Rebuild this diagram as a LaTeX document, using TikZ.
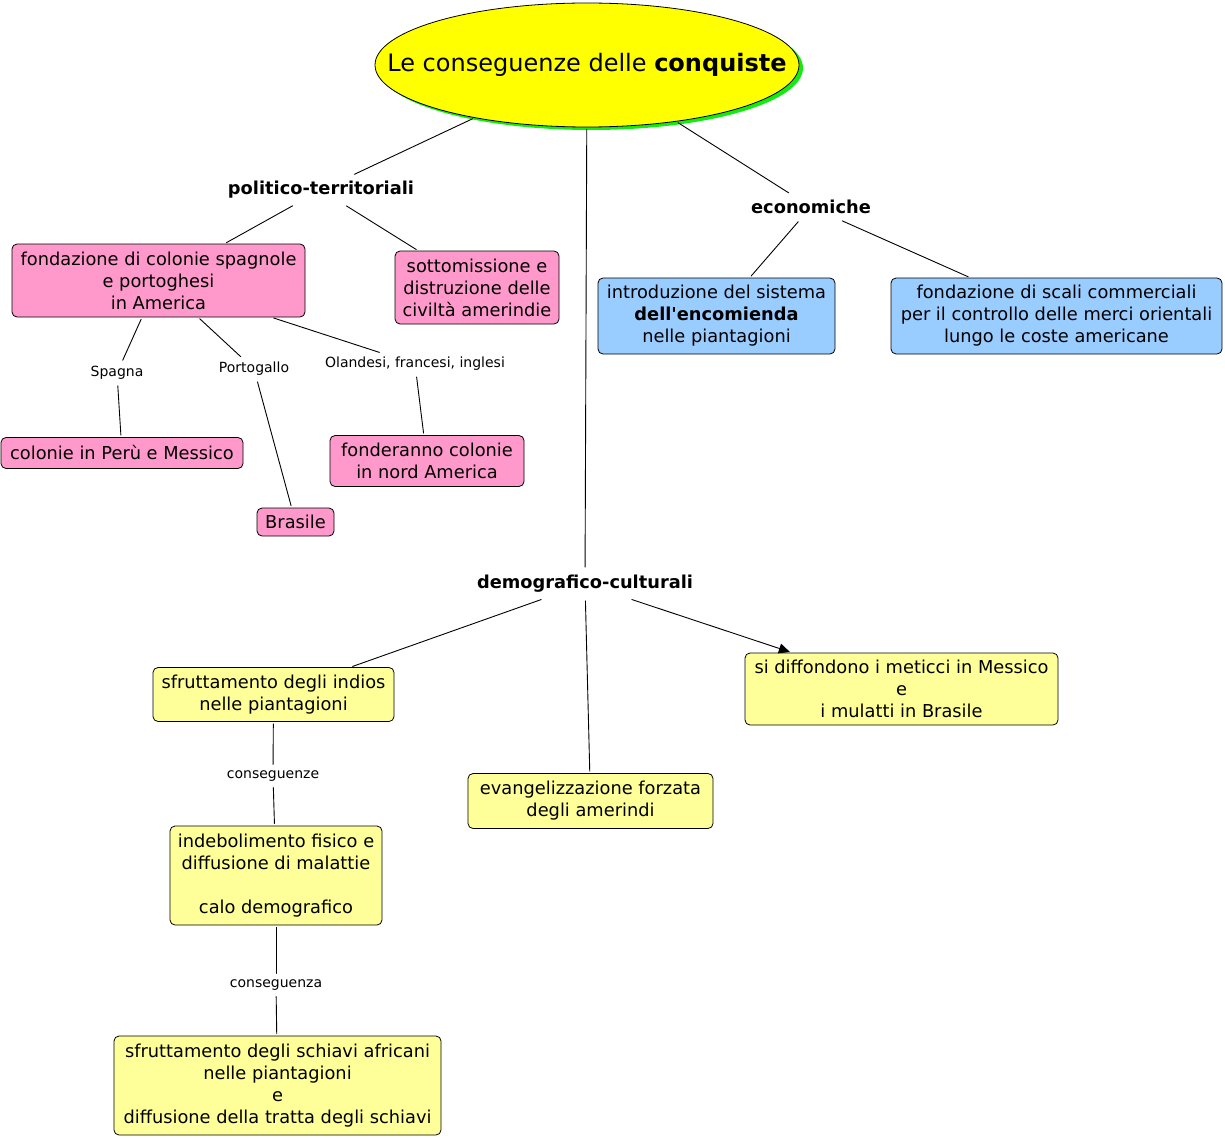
\documentclass[tikz,border=0pt]{standalone}
\usepackage{fontspec}
\setmainfont{DejaVu Sans}
\usetikzlibrary{shapes.geometric,shadows,arrows.meta}
\definecolor{rosa}{RGB}{255,153,204}
\definecolor{azzurro}{RGB}{153,204,255}
\definecolor{giallino}{RGB}{255,255,153}
\definecolor{giallo}{RGB}{255,255,0}
\definecolor{verde}{RGB}{20,235,20}
\begin{document}
\begin{tikzpicture}[x=1pt,y=-1pt,line join=round,line cap=round,>={Triangle[length=11pt,width=10pt]},
  font=\fontsize{17.8}{22}\selectfont,
  box/.style={draw,rounded corners=5pt,align=center,inner sep=0pt,line width=0.8pt},
  rosabox/.style={box,fill=rosa},
  blubox/.style={box,fill=azzurro},
  gialbox/.style={box,fill=giallino},
  ramo/.style={font=\fontsize{17.8}{22}\selectfont\bfseries,inner sep=6pt},
  etich/.style={font=\fontsize{14}{16}\selectfont,inner sep=4pt},
  link/.style={line width=0.9pt,shorten <=2pt,shorten >=2pt}]
\useasboundingbox(0,0)rectangle(1225,1137);
% radice
\node[ellipse,draw,fill=giallo,line width=0.8pt,minimum width=424pt,minimum height=124pt,inner xsep=-55pt,inner ysep=0pt,
  drop shadow={fill=verde,shadow xshift=4pt,shadow yshift=-3pt,opacity=1},font=\fontsize{24}{28}\selectfont]
  (root)at(587,65){Le conseguenze delle \textbf{conquiste}};
\node[ramo](pol)at(321,190){politico-territoriali};
\node[ramo](eco)at(811,207){economiche};
\node[ramo](dem)at(585,584){demografico-culturali};
% politico-territoriali
\node[rosabox,minimum width=293pt,minimum height=73pt](fond)at(158.5,280.5){fondazione di colonie spagnole\\e portoghesi\\in America};
\node[rosabox,minimum width=164pt,minimum height=73pt](sott)at(477,287.5){sottomissione e\\distruzione delle\\civiltà amerindie};
\node[rosabox,minimum width=242pt,minimum height=31pt](peru)at(122,453){colonie in Perù e Messico};
\node[rosabox,minimum width=77pt,minimum height=28pt](bras)at(295.5,522){Brasile};
\node[rosabox,minimum width=194pt,minimum height=51pt](nord)at(427,461){fonderanno colonie\\in nord America};
\node[etich](spa)at(117,373){Spagna};
\node[etich](por)at(254,369){Portogallo};
\node[etich](ola)at(415,364){Olandesi, francesi, inglesi};
% economiche
\node[blubox,minimum width=237pt,minimum height=76pt](enc)at(716.5,316){introduzione del sistema\\\textbf{dell\textquotesingle encomienda}\\nelle piantagioni};
\node[blubox,minimum width=331pt,minimum height=76pt](scali)at(1056.5,316){fondazione di scali commerciali\\per il controllo delle merci orientali\\lungo le coste americane};
% demografico-culturali
\node[gialbox,minimum width=241pt,minimum height=54pt](indios)at(273.5,694.5){sfruttamento degli indios\\nelle piantagioni};
\node[gialbox,minimum width=245pt,minimum height=55pt](evan)at(590.5,801){evangelizzazione forzata\\degli amerindi};
\node[gialbox,minimum width=313pt,minimum height=72pt](met)at(901.5,689){si diffondono i meticci in Messico\\e\\i mulatti in Brasile};
\node[gialbox,minimum width=212pt,minimum height=99pt](indeb)at(276,875.5){indebolimento fisico e\\diffusione di malattie\\[22pt]calo demografico};
\node[gialbox,minimum width=327pt,minimum height=99pt](schiavi)at(277.5,1085.5){sfruttamento degli schiavi africani\\nelle piantagioni\\e\\diffusione della tratta degli schiavi};
\node[etich](cons1)at(273,776){conseguenze};
\node[etich](cons2)at(276,985){conseguenza};
% collegamenti
\foreach \a/\b in{root/pol,root/eco,root/dem,pol/fond,pol/sott,fond/spa,spa/peru,fond/por,por/bras,fond/ola,ola/nord,
  eco/enc,eco/scali,dem/indios,dem/evan,indios/cons1,cons1/indeb,indeb/cons2,cons2/schiavi}
\draw[link](\a)--(\b);
\draw[link,->](dem)--(met);
\end{tikzpicture}
\end{document}
